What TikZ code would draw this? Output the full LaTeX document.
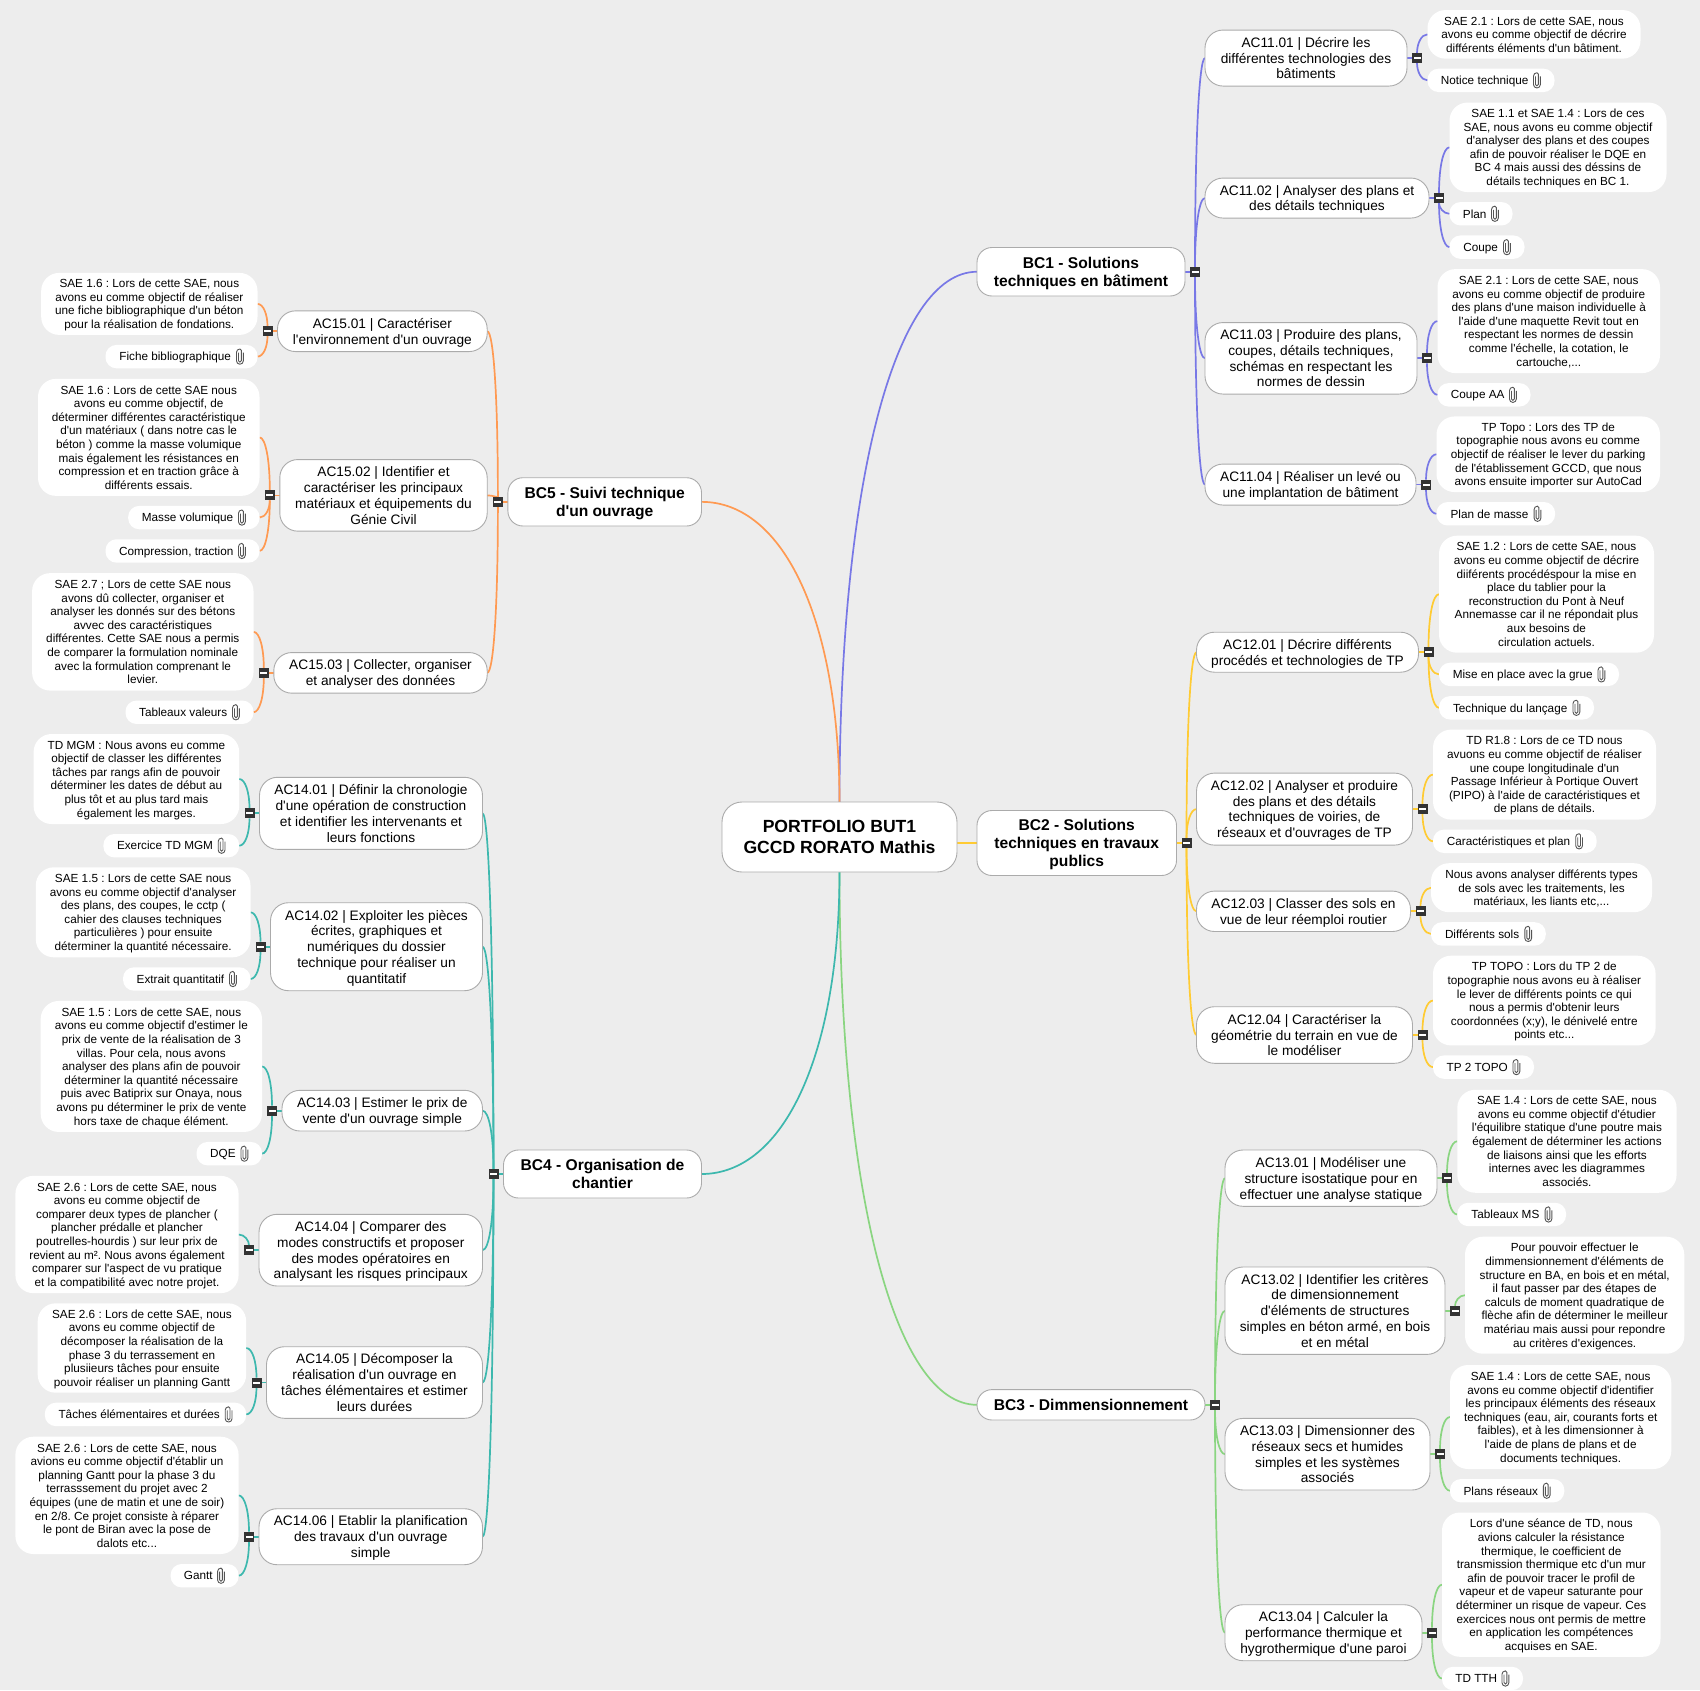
\documentclass[tikz,border=0pt]{standalone}
\usepackage{fontspec}
\setmainfont[Ligatures=TeXOff]{Liberation Sans}
\frenchspacing
\usetikzlibrary{positioning}
\usetikzlibrary{calc}
\usetikzlibrary{backgrounds}

\definecolor{canvasgray}{HTML}{EDEDED}
\definecolor{edgegray}{HTML}{ABABAB}
\definecolor{knobgray}{HTML}{333333}
\definecolor{clipgray}{HTML}{555555}
\definecolor{bconecolor}{HTML}{7878E6}
\definecolor{bctwocolor}{HTML}{FFCB33}
\definecolor{bcthreecolor}{HTML}{8AD581}
\definecolor{bcfourcolor}{HTML}{3DB8AE}
\definecolor{bcfivecolor}{HTML}{FF9A52}

\tikzset{
    rootbox/.style={rectangle, rounded corners=20pt, draw=edgegray, line width=0.9pt, fill=white, align=center, inner sep=0pt, outer sep=0pt, text depth=0pt, font=\fontsize{17.6}{21}\selectfont\bfseries},
    bcbox/.style={rectangle, rounded corners=15pt, draw=edgegray, line width=0.9pt, fill=white, align=center, inner sep=0pt, outer sep=0pt, text depth=0pt, font=\fontsize{15.6}{18}\selectfont\bfseries},
    acbox/.style={rectangle, rounded corners=18pt, draw=edgegray, line width=0.9pt, fill=white, align=center, inner sep=0pt, outer sep=0pt, text depth=0pt, font=\fontsize{13.7}{15.8}\selectfont},
    leafbox/.style={rectangle, rounded corners=18pt, fill=white, align=center, inner sep=0pt, outer sep=0pt, text depth=0pt, font=\fontsize{11.75}{13.6}\selectfont},
    docbox/.style={rectangle, rounded corners=11pt, fill=white, minimum height=23.4pt, inner sep=0pt, outer sep=0pt, text depth=0pt, font=\fontsize{11.75}{13.6}\selectfont, execute at end node=\hspace{12.6pt}},
    paperclip/.pic={
        \draw[clipgray, line width=0.9pt]
            [rounded corners=1.4pt] (-1.4,4) -- (-1.4,-5.5) -- (1.4,-5.5) -- (1.4,7.6)
            [rounded corners=3.3pt] -- (-3.4,7.6) -- (-3.4,-7.6) -- (3.4,-7.6) -- (3.4,4);
    },
    knob/.style={rectangle, fill=knobgray, minimum size=10pt, inner sep=0pt, outer sep=0pt,
        path picture={
            \fill[white] ([xshift=-3.5pt,yshift=-1pt]path picture bounding box.center) rectangle +(7,2);
        }},
    curveto/.style={to path={.. controls ($(\tikztostart)!0.6!(\tikztostart |- \tikztotarget)$) and ($(\tikztotarget)!0.6!(\tikztostart |- \tikztotarget)$) .. (\tikztotarget)}},
    bcone/.style={draw=bconecolor, line width=1.7pt},
    bctwo/.style={draw=bctwocolor, line width=1.7pt},
    bcthree/.style={draw=bcthreecolor, line width=1.7pt},
    bcfour/.style={draw=bcfourcolor, line width=1.7pt},
    bcfive/.style={draw=bcfivecolor, line width=1.7pt}
}

\begin{document}
\begin{tikzpicture}[x=1pt, y=1pt]
    \useasboundingbox (0,0) rectangle (1700,-1690);

    \node (root) [rootbox, minimum width=235pt, minimum height=70pt] at (839.5,-837) {PORTFOLIO BUT1\\GCCD RORATO Mathis};

    \node (bc1) [bcbox, minimum width=208pt, minimum height=48.5pt, above right = 541pt and 20pt of root.east] {BC1 - Solutions\\techniques en bâtiment};
    \node (bc2) [bcbox, minimum width=199.5pt, minimum height=65pt, right = 20pt of root.east, yshift=-6pt] {BC2 - Solutions\\techniques en travaux\\publics};
    \node (bc3) [bcbox, minimum width=228pt, minimum height=30.4pt, below right = 552.6pt and 20pt of root.east] {BC3 - Dimmensionnement};
    \node (bc4) [bcbox, minimum width=198pt, minimum height=48pt, below left = 313pt and 20.5pt of root.west] {BC4 - Organisation de\\chantier};
    \node (bc5) [bcbox, minimum width=193.6pt, minimum height=48.3pt, above left = 311pt and 20.5pt of root.west] {BC5 - Suivi technique\\d'un ouvrage};

    \node (kbbc1) [knob, right = 5pt of bc1.east] {};
    \node (kbbc2) [knob, right = 5pt of bc2.east] {};
    \node (kbbc3) [knob, right = 5pt of bc3.east] {};
    \node (kbbc4) [knob, left = 5pt of bc4.west] {};
    \node (kbbc5) [knob, left = 5pt of bc5.west] {};

    \node (ac1101) [acbox, minimum width=202pt, minimum height=56pt, above right = 185.7pt and 20pt of bc1.east] {AC11.01 | Décrire les\\différentes technologies des\\bâtiments};
    \node (ac1102) [acbox, minimum width=224pt, minimum height=40pt, above right = 53.7pt and 20pt of bc1.east] {AC11.02 | Analyser des plans et\\des détails techniques};
    \node (ac1103) [acbox, minimum width=212pt, minimum height=71.5pt, below right = 50.8pt and 20pt of bc1.east] {AC11.03 | Produire des plans,\\coupes, détails techniques,\\schémas en respectant les\\normes de dessin};
    \node (ac1104) [acbox, minimum width=211pt, minimum height=41pt, below right = 192.3pt and 20pt of bc1.east] {AC11.04 | Réaliser un levé ou\\une implantation de bâtiment};

    \node (ac1201) [acbox, minimum width=222pt, minimum height=40pt, above right = 170.8pt and 20pt of bc2.east] {AC12.01 | Décrire différents\\procédés et technologies de TP};
    \node (ac1202) [acbox, minimum width=216pt, minimum height=72pt, above right = -2.1pt and 20pt of bc2.east] {AC12.02 | Analyser et produire\\des plans et des détails\\techniques de voiries, de\\réseaux et d'ouvrages de TP};
    \node (ac1203) [acbox, minimum width=214pt, minimum height=40.4pt, below right = 48.1pt and 20pt of bc2.east] {AC12.03 | Classer des sols en\\vue de leur réemploi routier};
    \node (ac1204) [acbox, minimum width=216pt, minimum height=56.6pt, below right = 163.7pt and 20pt of bc2.east] {AC12.04 | Caractériser la\\géométrie du terrain en vue de\\le modéliser};

    \node (ac1301) [acbox, minimum width=212pt, minimum height=56.3pt, above right = 198.5pt and 20pt of bc3.east] {AC13.01 | Modéliser une\\structure isostatique pour en\\effectuer une analyse statique};
    \node (ac1302) [acbox, minimum width=220pt, minimum height=87.4pt, above right = 50.4pt and 20pt of bc3.east] {AC13.02 | Identifier les critères\\de dimensionnement\\d'éléments de structures\\simples en béton armé, en bois\\et en métal};
    \node (ac1303) [acbox, minimum width=205pt, minimum height=71.6pt, below right = 13.6pt and 20pt of bc3.east] {AC13.03 | Dimensionner des\\réseaux secs et humides\\simples et les systèmes\\associés};
    \node (ac1304) [acbox, minimum width=197pt, minimum height=56pt, below right = 199.9pt and 20pt of bc3.east] {AC13.04 | Calculer la\\performance thermique et\\hygrothermique d'une paroi};

    \node (ac1401) [acbox, minimum width=223pt, minimum height=72pt, above left = 324.7pt and 21pt of bc4.west] {AC14.01 | Définir la chronologie\\d'une opération de construction\\et identifier les intervenants et\\leurs fonctions};
    \node (ac1402) [acbox, minimum width=212pt, minimum height=88pt, above left = 183.3pt and 21pt of bc4.west] {AC14.02 | Exploiter les pièces\\écrites, graphiques et\\numériques du dossier\\technique pour réaliser un\\quantitatif};
    \node (ac1403) [acbox, minimum width=200.5pt, minimum height=40.7pt, above left = 43pt and 21pt of bc4.west] {AC14.03 | Estimer le prix de\\vente d'un ouvrage simple};
    \node (ac1404) [acbox, minimum width=223.5pt, minimum height=71.7pt, below left = 40.3pt and 21pt of bc4.west] {AC14.04 | Comparer des\\modes constructifs et proposer\\des modes opératoires en\\analysant les risques principaux};
    \node (ac1405) [acbox, minimum width=216pt, minimum height=71.6pt, below left = 172.7pt and 21pt of bc4.west] {AC14.05 | Décomposer la\\réalisation d'un ouvrage en\\tâches élémentaires et estimer\\leurs durées};
    \node (ac1406) [acbox, minimum width=223.5pt, minimum height=56pt, below left = 334.7pt and 21pt of bc4.west] {AC14.06 | Etablir la planification\\des travaux d'un ouvrage\\simple};

    \node (ac1501) [acbox, minimum width=209.7pt, minimum height=40.7pt, above left = 150.3pt and 20.7pt of bc5.west] {AC15.01 | Caractériser\\l'environnement d'un ouvrage};
    \node (ac1502) [acbox, minimum width=207.4pt, minimum height=71.6pt, above left = -29.3pt and 20.7pt of bc5.west] {AC15.02 | Identifier et\\caractériser les principaux\\matériaux et équipements du\\Génie Civil};
    \node (ac1503) [acbox, minimum width=213.4pt, minimum height=40.6pt, below left = 150.7pt and 20.7pt of bc5.west] {AC15.03 | Collecter, organiser\\et analyser des données};

    \node (kb1101) [knob, right = 5pt of ac1101.east] {};
    \node (kb1102) [knob, right = 5pt of ac1102.east] {};
    \node (kb1103) [knob, right = 5pt of ac1103.east] {};
    \node (kb1104) [knob, right = 5pt of ac1104.east] {};
    \node (kb1201) [knob, right = 5pt of ac1201.east] {};
    \node (kb1202) [knob, right = 5pt of ac1202.east] {};
    \node (kb1203) [knob, right = 5pt of ac1203.east] {};
    \node (kb1204) [knob, right = 5pt of ac1204.east] {};
    \node (kb1301) [knob, right = 5pt of ac1301.east] {};
    \node (kb1302) [knob, right = 5pt of ac1302.east] {};
    \node (kb1303) [knob, right = 5pt of ac1303.east] {};
    \node (kb1304) [knob, right = 5pt of ac1304.east] {};
    \node (kb1401) [knob, left = 5pt of ac1401.west] {};
    \node (kb1402) [knob, left = 5pt of ac1402.west] {};
    \node (kb1403) [knob, left = 5pt of ac1403.west] {};
    \node (kb1404) [knob, left = 5pt of ac1404.west] {};
    \node (kb1405) [knob, left = 5pt of ac1405.west] {};
    \node (kb1406) [knob, left = 5pt of ac1406.west] {};
    \node (kb1501) [knob, left = 5pt of ac1501.west] {};
    \node (kb1502) [knob, left = 5pt of ac1502.west] {};
    \node (kb1503) [knob, left = 5pt of ac1503.west] {};

    \node (sae1101) [leafbox, minimum width=213pt, minimum height=48.6pt, above right = -0.6pt and 20.5pt of ac1101.east] {SAE 2.1 : Lors de cette SAE, nous\\avons eu comme objectif de décrire\\différents éléments d'un bâtiment.};
    \node (doc1101) [docbox, minimum width=127pt, below right = 10pt and 0pt of sae1101.south west] {Notice technique};

    \node (sae1102) [leafbox, minimum width=217pt, minimum height=89.5pt, above right = 6pt and 20.5pt of ac1102.east] {SAE 1.1 et SAE 1.4 : Lors de ces\\SAE, nous avons eu comme objectif\\d'analyser des plans et des coupes\\afin de pouvoir réaliser le DQE en\\BC 4 mais aussi des déssins de\\détails techniques en BC 1.};
    \node (doc1102a) [docbox, minimum width=63pt, below right = 10pt and 0pt of sae1102.south west] {Plan};
    \node (doc1102b) [docbox, minimum width=75pt, below right = 10pt and 0pt of doc1102a.south west] {Coupe};

    \node (sae1103) [leafbox, minimum width=222.5pt, minimum height=104pt, above right = -14.8pt and 20.5pt of ac1103.east] {SAE 2.1 : Lors de cette SAE, nous\\avons eu comme objectif de produire\\des plans d'une maison individuelle à\\l'aide d'une maquette Revit tout en\\respectant les normes de dessin\\comme l'échelle, la cotation, le\\cartouche,...};
    \node (doc1103) [docbox, minimum width=93pt, below right = 10pt and 0pt of sae1103.south west] {Coupe AA};

    \node (sae1104) [leafbox, minimum width=223.5pt, minimum height=75.6pt, above right = -7.5pt and 20.5pt of ac1104.east] {TP Topo : Lors des TP de\\topographie nous avons eu comme\\objectif de réaliser le lever du parking\\de l'établissement GCCD, que nous\\avons ensuite importer sur AutoCad};
    \node (doc1104) [docbox, minimum width=118.6pt, below right = 10pt and 0pt of sae1104.south west] {Plan de masse};

    \node (sae1201) [leafbox, minimum width=215pt, minimum height=117pt, above right = -0.5pt and 20.5pt of ac1201.east] {SAE 1.2 : Lors de cette SAE, nous\\avons eu comme objectif de décrire\\diiférents procédéspour la mise en\\place du tablier pour la\\reconstruction du Pont à Neuf\\Annemasse car il ne répondait plus\\aux besoins de\\circulation actuels.};
    \node (doc1201a) [docbox, minimum width=180pt, below right = 10pt and 0pt of sae1201.south west] {Mise en place avec la grue};
    \node (doc1201b) [docbox, minimum width=155pt, below right = 10pt and 0pt of doc1201a.south west] {Technique du lançage};

    \node (sae1202) [leafbox, minimum width=223pt, minimum height=90pt, above right = -10.5pt and 20.5pt of ac1202.east] {TD R1.8 : Lors de ce TD nous\\avuons eu comme objectif de réaliser\\une coupe longitudinale d'un\\Passage Inférieur à Portique Ouvert\\(PIPO) à l'aide de caractéristiques et\\de plans de détails.};
    \node (doc1202) [docbox, minimum width=163.7pt, below right = 10pt and 0pt of sae1202.south west] {Caractéristiques et plan};

    \node (sae1203) [leafbox, minimum width=221pt, minimum height=49pt, above right = -0.9pt and 20.5pt of ac1203.east] {Nous avons analyser différents types\\de sols avec les traitements, les\\matériaux, les liants etc,...};
    \node (doc1203) [docbox, minimum width=114.8pt, below right = 10pt and 0pt of sae1203.south west] {Différents sols};

    \node (sae1204) [leafbox, minimum width=222.6pt, minimum height=89.7pt, above right = -10.4pt and 20.5pt of ac1204.east] {TP TOPO : Lors du TP 2 de\\topographie nous avons eu à réaliser\\le lever de différents points ce qui\\nous a permis d'obtenir leurs\\coordonnées (x;y), le dénivelé entre\\points etc...};
    \node (doc1204) [docbox, minimum width=101pt, below right = 10pt and 0pt of sae1204.south west] {TP 2 TOPO};

    \node (sae1301) [leafbox, minimum width=219.3pt, minimum height=103pt, above right = -14.6pt and 20.3pt of ac1301.east] {SAE 1.4 : Lors de cette SAE, nous\\avons eu comme objectif d'étudier\\l'équilibre statique d'une poutre mais\\également de déterminer les actions\\de liaisons ainsi que les efforts\\internes avec les diagrammes\\associés.};
    \node (doc1301) [docbox, minimum width=108.8pt, below right = 10pt and 0pt of sae1301.south west] {Tableaux MS};

    \node (sae1302) [leafbox, minimum width=219.3pt, minimum height=117pt, above right = -43pt and 20pt of ac1302.east] {Pour pouvoir effectuer le\\dimmensionnement d'éléments de\\structure en BA, en bois et en métal,\\il faut passer par des étapes de\\calculs de moment quadratique de\\flèche afin de déterminer le meilleur\\matériau mais aussi pour repondre\\au critères d'exigences.};

    \node (sae1303) [leafbox, minimum width=221.3pt, minimum height=104pt, above right = -14.8pt and 20pt of ac1303.east] {SAE 1.4 : Lors de cette SAE, nous\\avons eu comme objectif d'identifier\\les principaux éléments des réseaux\\techniques (eau, air, courants forts et\\faibles), et à les dimensionner à\\l'aide de plans de plans et de\\documents techniques.};
    \node (doc1303) [docbox, minimum width=114.3pt, below right = 10pt and 0pt of sae1303.south west] {Plans réseaux};

    \node (sae1304) [leafbox, minimum width=218.5pt, minimum height=144.3pt, above right = -24.1pt and 20pt of ac1304.east] {Lors d'une séance de TD, nous\\avions calculer la résistance\\thermique, le coefficient de\\transmission thermique etc d'un mur\\afin de pouvoir tracer le profil de\\vapeur et de vapeur saturante pour\\déterminer un risque de vapeur. Ces\\exercices nous ont permis de mettre\\en application les compétences\\acquises en SAE.};
    \node (doc1304) [docbox, minimum width=81pt, below right = 10pt and 0pt of sae1304.south west] {TD TTH};

    \node (sae1401) [leafbox, minimum width=205.6pt, minimum height=90pt, above left = -10.7pt and 20.3pt of ac1401.west] {TD MGM : Nous avons eu comme\\objectif de classer les différentes\\tâches par rangs afin de pouvoir\\déterminer les dates de début au\\plus tôt et au plus tard mais\\également les marges.};
    \node (doc1401) [docbox, minimum width=135.8pt, below left = 10pt and 0pt of sae1401.south east] {Exercice TD MGM};

    \node (sae1402) [leafbox, minimum width=214.7pt, minimum height=90pt, above left = -10.6pt and 20pt of ac1402.west] {SAE 1.5 : Lors de cette SAE nous\\avons eu comme objectif d'analyser\\des plans, des coupes, le cctp (\\cahier des clauses techniques\\particulières ) pour ensuite\\déterminer la quantité nécessaire.};
    \node (doc1402) [docbox, minimum width=127.5pt, below left = 10pt and 0pt of sae1402.south east] {Extrait quantitatif};

    \node (sae1403) [leafbox, minimum width=221.3pt, minimum height=131pt, above left = -21.3pt and 20pt of ac1403.west] {SAE 1.5 : Lors de cette SAE, nous\\avons eu comme objectif d'estimer le\\prix de vente de la réalisation de 3\\villas. Pour cela, nous avons\\analyser des plans afin de pouvoir\\déterminer la quantité nécessaire\\puis avec Batiprix sur Onaya, nous\\avons pu déterminer le prix de vente\\hors taxe de chaque élément.};
    \node (doc1403) [docbox, minimum width=65.5pt, below left = 10pt and 0pt of sae1403.south east] {DQE};

    \node (sae1404) [leafbox, minimum width=223.2pt, minimum height=117.3pt, above left = -43pt and 20.4pt of ac1404.west] {SAE 2.6 : Lors de cette SAE, nous\\avons eu comme objectif de\\comparer deux types de plancher (\\plancher prédalle et plancher\\poutrelles-hourdis ) sur leur prix de\\revient au m². Nous avons également\\comparer sur l'aspect de vu pratique\\et la compatibilité avec notre projet.};

    \node (sae1405) [leafbox, minimum width=208.5pt, minimum height=89.4pt, above left = -10.2pt and 20.3pt of ac1405.west] {SAE 2.6 : Lors de cette SAE, nous\\avons eu comme objectif de\\décomposer la réalisation de la\\phase 3 du terrassement en\\plusiieurs tâches pour ensuite\\pouvoir réaliser un planning Gantt};
    \node (doc1405) [docbox, minimum width=201.4pt, below left = 10pt and 0pt of sae1405.south east] {Tâches élémentaires et durées};

    \node (sae1406) [leafbox, minimum width=223.2pt, minimum height=117.3pt, above left = -17.3pt and 20.4pt of ac1406.west] {SAE 2.6 : Lors de cette SAE, nous\\avions eu comme objectif d'établir un\\planning Gantt pour la phase 3 du\\terrasssement du projet avec 2\\équipes (une de matin et une de soir)\\en 2/8. Ce projet consiste à réparer\\le pont de Biran avec la pose de\\dalots etc...};
    \node (doc1406) [docbox, minimum width=68pt, below left = 10pt and 0pt of sae1406.south east] {Gantt};

    \node (sae1501) [leafbox, minimum width=216.3pt, minimum height=62pt, above left = -3.7pt and 20pt of ac1501.west] {SAE 1.6 : Lors de cette SAE, nous\\avons eu comme objectif de réaliser\\une fiche bibliographique d'un béton\\pour la réalisation de fondations.};
    \node (doc1501) [docbox, minimum width=152pt, below left = 10pt and 0pt of sae1501.south east] {Fiche bibliographique};

    \node (sae1502) [leafbox, minimum width=221.5pt, minimum height=117pt, above left = -0.5pt and 20.3pt of ac1502.west] {SAE 1.6 : Lors de cette SAE nous\\avons eu comme objectif, de\\déterminer différentes caractéristique\\d'un matériaux ( dans notre cas le\\béton ) comme la masse volumique\\mais également les résistances en\\compression et en traction grâce à\\différents essais.};
    \node (doc1502a) [docbox, minimum width=131.3pt, below left = 10pt and 0pt of sae1502.south east] {Masse volumique};
    \node (doc1502b) [docbox, minimum width=154pt, below left = 10pt and 0pt of doc1502a.south east] {Compression, traction};

    \node (sae1503) [leafbox, minimum width=221.4pt, minimum height=117.4pt, above left = -17.7pt and 20.3pt of ac1503.west] {SAE 2.7 ; Lors de cette SAE nous\\avons dû collecter, organiser et\\analyser les donnés sur des bétons\\avvec des caractéristiques\\différentes. Cette SAE nous a permis\\de comparer la formulation nominale\\avec la formulation comprenant le\\levier.};
    \node (doc1503) [docbox, minimum width=128pt, below left = 10pt and 0pt of sae1503.south east] {Tableaux valeurs};

    \pic at ([xshift=-17.6pt]doc1101.east) {paperclip};
    \pic at ([xshift=-17.6pt]doc1102a.east) {paperclip};
    \pic at ([xshift=-17.6pt]doc1102b.east) {paperclip};
    \pic at ([xshift=-17.6pt]doc1103.east) {paperclip};
    \pic at ([xshift=-17.6pt]doc1104.east) {paperclip};
    \pic at ([xshift=-17.6pt]doc1201a.east) {paperclip};
    \pic at ([xshift=-17.6pt]doc1201b.east) {paperclip};
    \pic at ([xshift=-17.6pt]doc1202.east) {paperclip};
    \pic at ([xshift=-17.6pt]doc1203.east) {paperclip};
    \pic at ([xshift=-17.6pt]doc1204.east) {paperclip};
    \pic at ([xshift=-17.6pt]doc1301.east) {paperclip};
    \pic at ([xshift=-17.6pt]doc1303.east) {paperclip};
    \pic at ([xshift=-17.6pt]doc1304.east) {paperclip};
    \pic at ([xshift=-17.6pt]doc1401.east) {paperclip};
    \pic at ([xshift=-17.6pt]doc1402.east) {paperclip};
    \pic at ([xshift=-17.6pt]doc1403.east) {paperclip};
    \pic at ([xshift=-17.6pt]doc1405.east) {paperclip};
    \pic at ([xshift=-17.6pt]doc1406.east) {paperclip};
    \pic at ([xshift=-17.6pt]doc1501.east) {paperclip};
    \pic at ([xshift=-17.6pt]doc1502a.east) {paperclip};
    \pic at ([xshift=-17.6pt]doc1502b.east) {paperclip};
    \pic at ([xshift=-17.6pt]doc1503.east) {paperclip};

    \begin{scope}[on background layer]
        \fill[canvasgray] (0,0) rectangle (1700,-1690);

        \draw[bcone] (root.north) to[curveto] (bc1.west);
        \draw[bcfive] (root.north) to[curveto] (bc5.east);
        \draw[bcthree] (root.south) to[curveto] (bc3.west);
        \draw[bcfour] (root.south) to[curveto] (bc4.east);
        \draw[bctwo] (root.east |- bc2.west) -- (bc2.west);

        \draw[bcone] (bc1.east) -- (kbbc1);
        \draw[bctwo] (bc2.east) -- (kbbc2);
        \draw[bcthree] (bc3.east) -- (kbbc3);
        \draw[bcfour] (bc4.west) -- (kbbc4);
        \draw[bcfive] (bc5.west) -- (kbbc5);

        \draw[bcone] (kbbc1) to[curveto] (ac1101.west);
        \draw[bcone] (kbbc1) to[curveto] (ac1102.west);
        \draw[bcone] (kbbc1) to[curveto] (ac1103.west);
        \draw[bcone] (kbbc1) to[curveto] (ac1104.west);
        \draw[bctwo] (kbbc2) to[curveto] (ac1201.west);
        \draw[bctwo] (kbbc2) to[curveto] (ac1202.west);
        \draw[bctwo] (kbbc2) to[curveto] (ac1203.west);
        \draw[bctwo] (kbbc2) to[curveto] (ac1204.west);
        \draw[bcthree] (kbbc3) to[curveto] (ac1301.west);
        \draw[bcthree] (kbbc3) to[curveto] (ac1302.west);
        \draw[bcthree] (kbbc3) to[curveto] (ac1303.west);
        \draw[bcthree] (kbbc3) to[curveto] (ac1304.west);
        \draw[bcfour] (kbbc4) to[curveto] (ac1401.east);
        \draw[bcfour] (kbbc4) to[curveto] (ac1402.east);
        \draw[bcfour] (kbbc4) to[curveto] (ac1403.east);
        \draw[bcfour] (kbbc4) to[curveto] (ac1404.east);
        \draw[bcfour] (kbbc4) to[curveto] (ac1405.east);
        \draw[bcfour] (kbbc4) to[curveto] (ac1406.east);
        \draw[bcfive] (kbbc5) to[curveto] (ac1501.east);
        \draw[bcfive] (kbbc5) to[curveto] (ac1502.east);
        \draw[bcfive] (kbbc5) to[curveto] (ac1503.east);

        \draw[bcone] (ac1101.east) -- (kb1101);
        \draw[bcone] (ac1102.east) -- (kb1102);
        \draw[bcone] (ac1103.east) -- (kb1103);
        \draw[bcone] (ac1104.east) -- (kb1104);
        \draw[bctwo] (ac1201.east) -- (kb1201);
        \draw[bctwo] (ac1202.east) -- (kb1202);
        \draw[bctwo] (ac1203.east) -- (kb1203);
        \draw[bctwo] (ac1204.east) -- (kb1204);
        \draw[bcthree] (ac1301.east) -- (kb1301);
        \draw[bcthree] (ac1302.east) -- (kb1302);
        \draw[bcthree] (ac1303.east) -- (kb1303);
        \draw[bcthree] (ac1304.east) -- (kb1304);
        \draw[bcfour] (ac1401.west) -- (kb1401);
        \draw[bcfour] (ac1402.west) -- (kb1402);
        \draw[bcfour] (ac1403.west) -- (kb1403);
        \draw[bcfour] (ac1404.west) -- (kb1404);
        \draw[bcfour] (ac1405.west) -- (kb1405);
        \draw[bcfour] (ac1406.west) -- (kb1406);
        \draw[bcfive] (ac1501.west) -- (kb1501);
        \draw[bcfive] (ac1502.west) -- (kb1502);
        \draw[bcfive] (ac1503.west) -- (kb1503);

        \draw[bcone] (kb1101) to[curveto] (sae1101.west);
        \draw[bcone] (kb1101) to[curveto] (doc1101.west);
        \draw[bcone] (kb1102) to[curveto] (sae1102.west);
        \draw[bcone] (kb1102) to[curveto] (doc1102a.west);
        \draw[bcone] (kb1102) to[curveto] (doc1102b.west);
        \draw[bcone] (kb1103) to[curveto] (sae1103.west);
        \draw[bcone] (kb1103) to[curveto] (doc1103.west);
        \draw[bcone] (kb1104) to[curveto] (sae1104.west);
        \draw[bcone] (kb1104) to[curveto] (doc1104.west);
        \draw[bctwo] (kb1201) to[curveto] (sae1201.west);
        \draw[bctwo] (kb1201) to[curveto] (doc1201a.west);
        \draw[bctwo] (kb1201) to[curveto] (doc1201b.west);
        \draw[bctwo] (kb1202) to[curveto] (sae1202.west);
        \draw[bctwo] (kb1202) to[curveto] (doc1202.west);
        \draw[bctwo] (kb1203) to[curveto] (sae1203.west);
        \draw[bctwo] (kb1203) to[curveto] (doc1203.west);
        \draw[bctwo] (kb1204) to[curveto] (sae1204.west);
        \draw[bctwo] (kb1204) to[curveto] (doc1204.west);
        \draw[bcthree] (kb1301) to[curveto] (sae1301.west);
        \draw[bcthree] (kb1301) to[curveto] (doc1301.west);
        \draw[bcthree] (kb1302) to[curveto] (sae1302.west);
        \draw[bcthree] (kb1303) to[curveto] (sae1303.west);
        \draw[bcthree] (kb1303) to[curveto] (doc1303.west);
        \draw[bcthree] (kb1304) to[curveto] (sae1304.west);
        \draw[bcthree] (kb1304) to[curveto] (doc1304.west);
        \draw[bcfour] (kb1401) to[curveto] (sae1401.east);
        \draw[bcfour] (kb1401) to[curveto] (doc1401.east);
        \draw[bcfour] (kb1402) to[curveto] (sae1402.east);
        \draw[bcfour] (kb1402) to[curveto] (doc1402.east);
        \draw[bcfour] (kb1403) to[curveto] (sae1403.east);
        \draw[bcfour] (kb1403) to[curveto] (doc1403.east);
        \draw[bcfour] (kb1404) to[curveto] (sae1404.east);
        \draw[bcfour] (kb1405) to[curveto] (sae1405.east);
        \draw[bcfour] (kb1405) to[curveto] (doc1405.east);
        \draw[bcfour] (kb1406) to[curveto] (sae1406.east);
        \draw[bcfour] (kb1406) to[curveto] (doc1406.east);
        \draw[bcfive] (kb1501) to[curveto] (sae1501.east);
        \draw[bcfive] (kb1501) to[curveto] (doc1501.east);
        \draw[bcfive] (kb1502) to[curveto] (sae1502.east);
        \draw[bcfive] (kb1502) to[curveto] (doc1502a.east);
        \draw[bcfive] (kb1502) to[curveto] (doc1502b.east);
        \draw[bcfive] (kb1503) to[curveto] (sae1503.east);
        \draw[bcfive] (kb1503) to[curveto] (doc1503.east);
    \end{scope}
\end{tikzpicture}
\end{document}
